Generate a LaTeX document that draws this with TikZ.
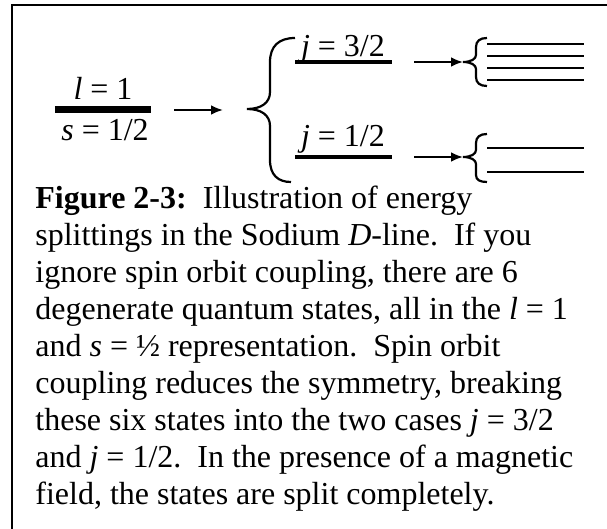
\documentclass[tikz,border=0pt]{standalone}
\usepackage{fontspec}
\setmainfont{Liberation Serif}
\usetikzlibrary{arrows.meta}

\begin{document}
\begin{tikzpicture}[
    x=0.5pt, y=-0.5pt,
    font=\fontsize{16}{18.5}\selectfont,
    level/.style={line width=#1},
    level/.default=1.2pt,
    split/.style={-{Latex[length=6pt, width=5pt]}, line width=1.2pt},
    curly/.style={line width=1.1pt},
    term/.style={anchor=base, inner sep=0pt},
  ]
  \useasboundingbox (0,0) rectangle (607,529);

  % Frame (open on the right and at the bottom)
  \draw[line width=1.25pt] (12,529) -- (12,5) -- (607,5);

  % Unsplit level
  \coordinate (lsL) at (55,110);
  \coordinate (lsR) at (151,110);
  \draw[level=3.5pt] (lsL) -- (lsR);
  \node[term] (lval) at (103,100) {\textit{l} = 1};
  \node[term] (sval) at (105,141) {\textit{s} = 1/2};

  % Spin orbit coupling
  \coordinate (soFrom) at (174,110);
  \coordinate (soTo) at (223,110);
  \draw[split] (soFrom) -- (soTo);
  \draw[curly] (295,38) .. controls (279,38) and (270,46) .. (270,62) -- (270,92)
    .. controls (270,103) and (261,109) .. (247,109)
    .. controls (261,109) and (270,115) .. (270,126) -- (270,160)
    .. controls (270,175) and (278,182) .. (291,182);

  % j levels
  \coordinate (jaL) at (295,62);
  \coordinate (jaR) at (392,62);
  \draw[level=2pt] (jaL) -- (jaR);
  \node[term] (javal) at (343,57) {\textit{j} = 3/2};
  \coordinate (jbL) at (295,157);
  \coordinate (jbR) at (392,157);
  \draw[level=2pt] (jbL) -- (jbR);
  \node[term] (jbval) at (343,147) {\textit{j} = 1/2};

  % Magnetic field
  \coordinate (jaFrom) at (414,62);
  \coordinate (jaTo) at (463,62);
  \draw[split] (jaFrom) -- (jaTo);
  \coordinate (jbFrom) at (414,157);
  \coordinate (jbTo) at (463,157);
  \draw[split] (jbFrom) -- (jbTo);

  \draw[curly] (487,38) .. controls (480,38) and (476,41) .. (476,47) -- (476,55)
    .. controls (476,59) and (471,62) .. (463,62)
    .. controls (471,62) and (476,65) .. (476,69) -- (476,77)
    .. controls (476,83) and (480,86) .. (487,86);
  \draw[curly] (487,134) .. controls (480,134) and (476,137) .. (476,143) -- (476,150)
    .. controls (476,154) and (471,157) .. (463,157)
    .. controls (471,157) and (476,160) .. (476,164) -- (476,175)
    .. controls (476,180) and (480,182) .. (487,182);
  \foreach \y in {44,56,68,80,148,172}
    \draw[level] (487,\y) -- (584,\y);

  % Caption
  \node[anchor=north west, align=left, inner sep=0pt] (caption) at (35,186) {%
    \textbf{Figure 2-3:}\ \ Illustration of energy\\
    splittings in the Sodium \textit{D}-line.\ \ If you\\
    ignore spin orbit coupling, there are 6\\
    degenerate quantum states, all in the \textit{l} = 1\\
    and \textit{s} = ½ representation.\ \ Spin orbit\\
    coupling reduces the symmetry, breaking\\
    these six states into the two cases \textit{j} = 3/2\\
    and \textit{j} = 1/2.\ \ In the presence of a magnetic\\
    field, the states are split completely.};
\end{tikzpicture}
\end{document}
